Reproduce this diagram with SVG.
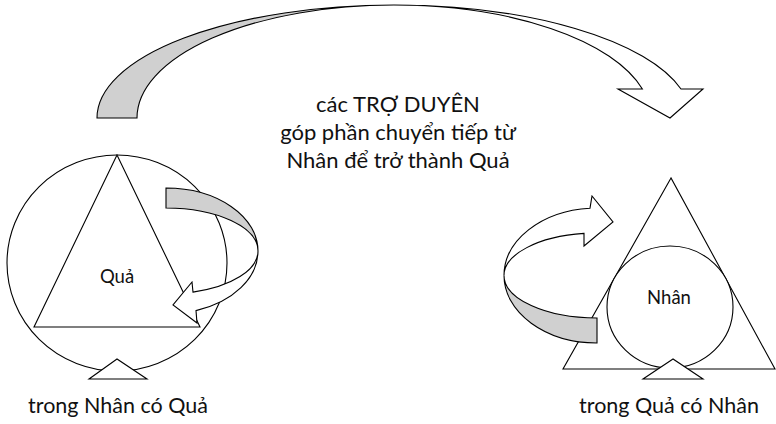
<svg xmlns="http://www.w3.org/2000/svg" width="776" height="424" viewBox="0 0 776 424">
<style>
.ln{fill:#fff;stroke:#000;stroke-width:1.1;stroke-linejoin:miter}
.sh{fill:#d0d0d0;stroke:#000;stroke-width:1.1}
.tx{font-family:Lato,"Open Sans","Noto Sans",sans-serif;fill:#111;text-anchor:middle}
</style>
<rect width="776" height="424" fill="#fff"/>
<g id="left-node">
<ellipse class="ln" cx="117" cy="263" rx="110" ry="108"/>
<polygon class="ln" points="117,155 34,327 200,327"/>
<text class="tx" x="117" y="283" font-size="18.5">Quả</text>
<polygon class="ln" points="117,359 89,379 147,379"/>
</g>
<g id="right-node">
<polygon class="ln" points="671,178 563,369 775,369"/>
<ellipse class="ln" cx="670" cy="307" rx="63" ry="61"/>
<text class="tx" x="669" y="304" font-size="18.5">Nhân</text>
<polygon class="ln" points="673,359 643,379 703,379"/>
</g>
<g id="connectors">
<g id="top-arrow">
<path class="sh" d="M97,118 A297,113 0 0 1 394,5 A257,113 0 0 0 137,118 Z"/>
<path class="ln" d="M394,5 A297,113 0 0 1 681,89 L703,89 L670,118 L618,89 L642.4,89 A257,113 0 0 0 394,5 Z"/>
</g>
<g id="left-arrow">
<path class="sh" d="M166,188 A92,63 0 0 1 258,251 A92,43 0 0 0 166,208 Z"/>
<path class="ln" d="M258,251 A92,63 0 0 1 196,310.6 L197,323 L173,305 L192,282 L193,292.1 A92,43 0 0 0 258,251 Z"/>
</g>
<g id="right-arrow">
<path class="sh" d="M597,318 A93,42.5 0 0 1 504,275.5 A93,67.5 0 0 0 597,343 Z"/>
<path class="ln" d="M504,275.5 A93,67.5 0 0 1 590,208.2 L592,196 L613,222 L584,246 L584,233.4 A93,42.5 0 0 0 504,275.5 Z"/>
</g>
</g>
<g id="labels">
<text class="tx" x="398" y="112" font-size="22">các TRỢ DUYÊN</text>
<text class="tx" x="398" y="140" font-size="22">góp phần chuyển tiếp từ</text>
<text class="tx" x="398" y="168" font-size="22">Nhân để trở thành Quả</text>
<text class="tx" x="118" y="413" font-size="21.5">trong Nhân có Quả</text>
<text class="tx" x="669" y="413" font-size="21.5">trong Quả có Nhân</text>
</g>
</svg>
